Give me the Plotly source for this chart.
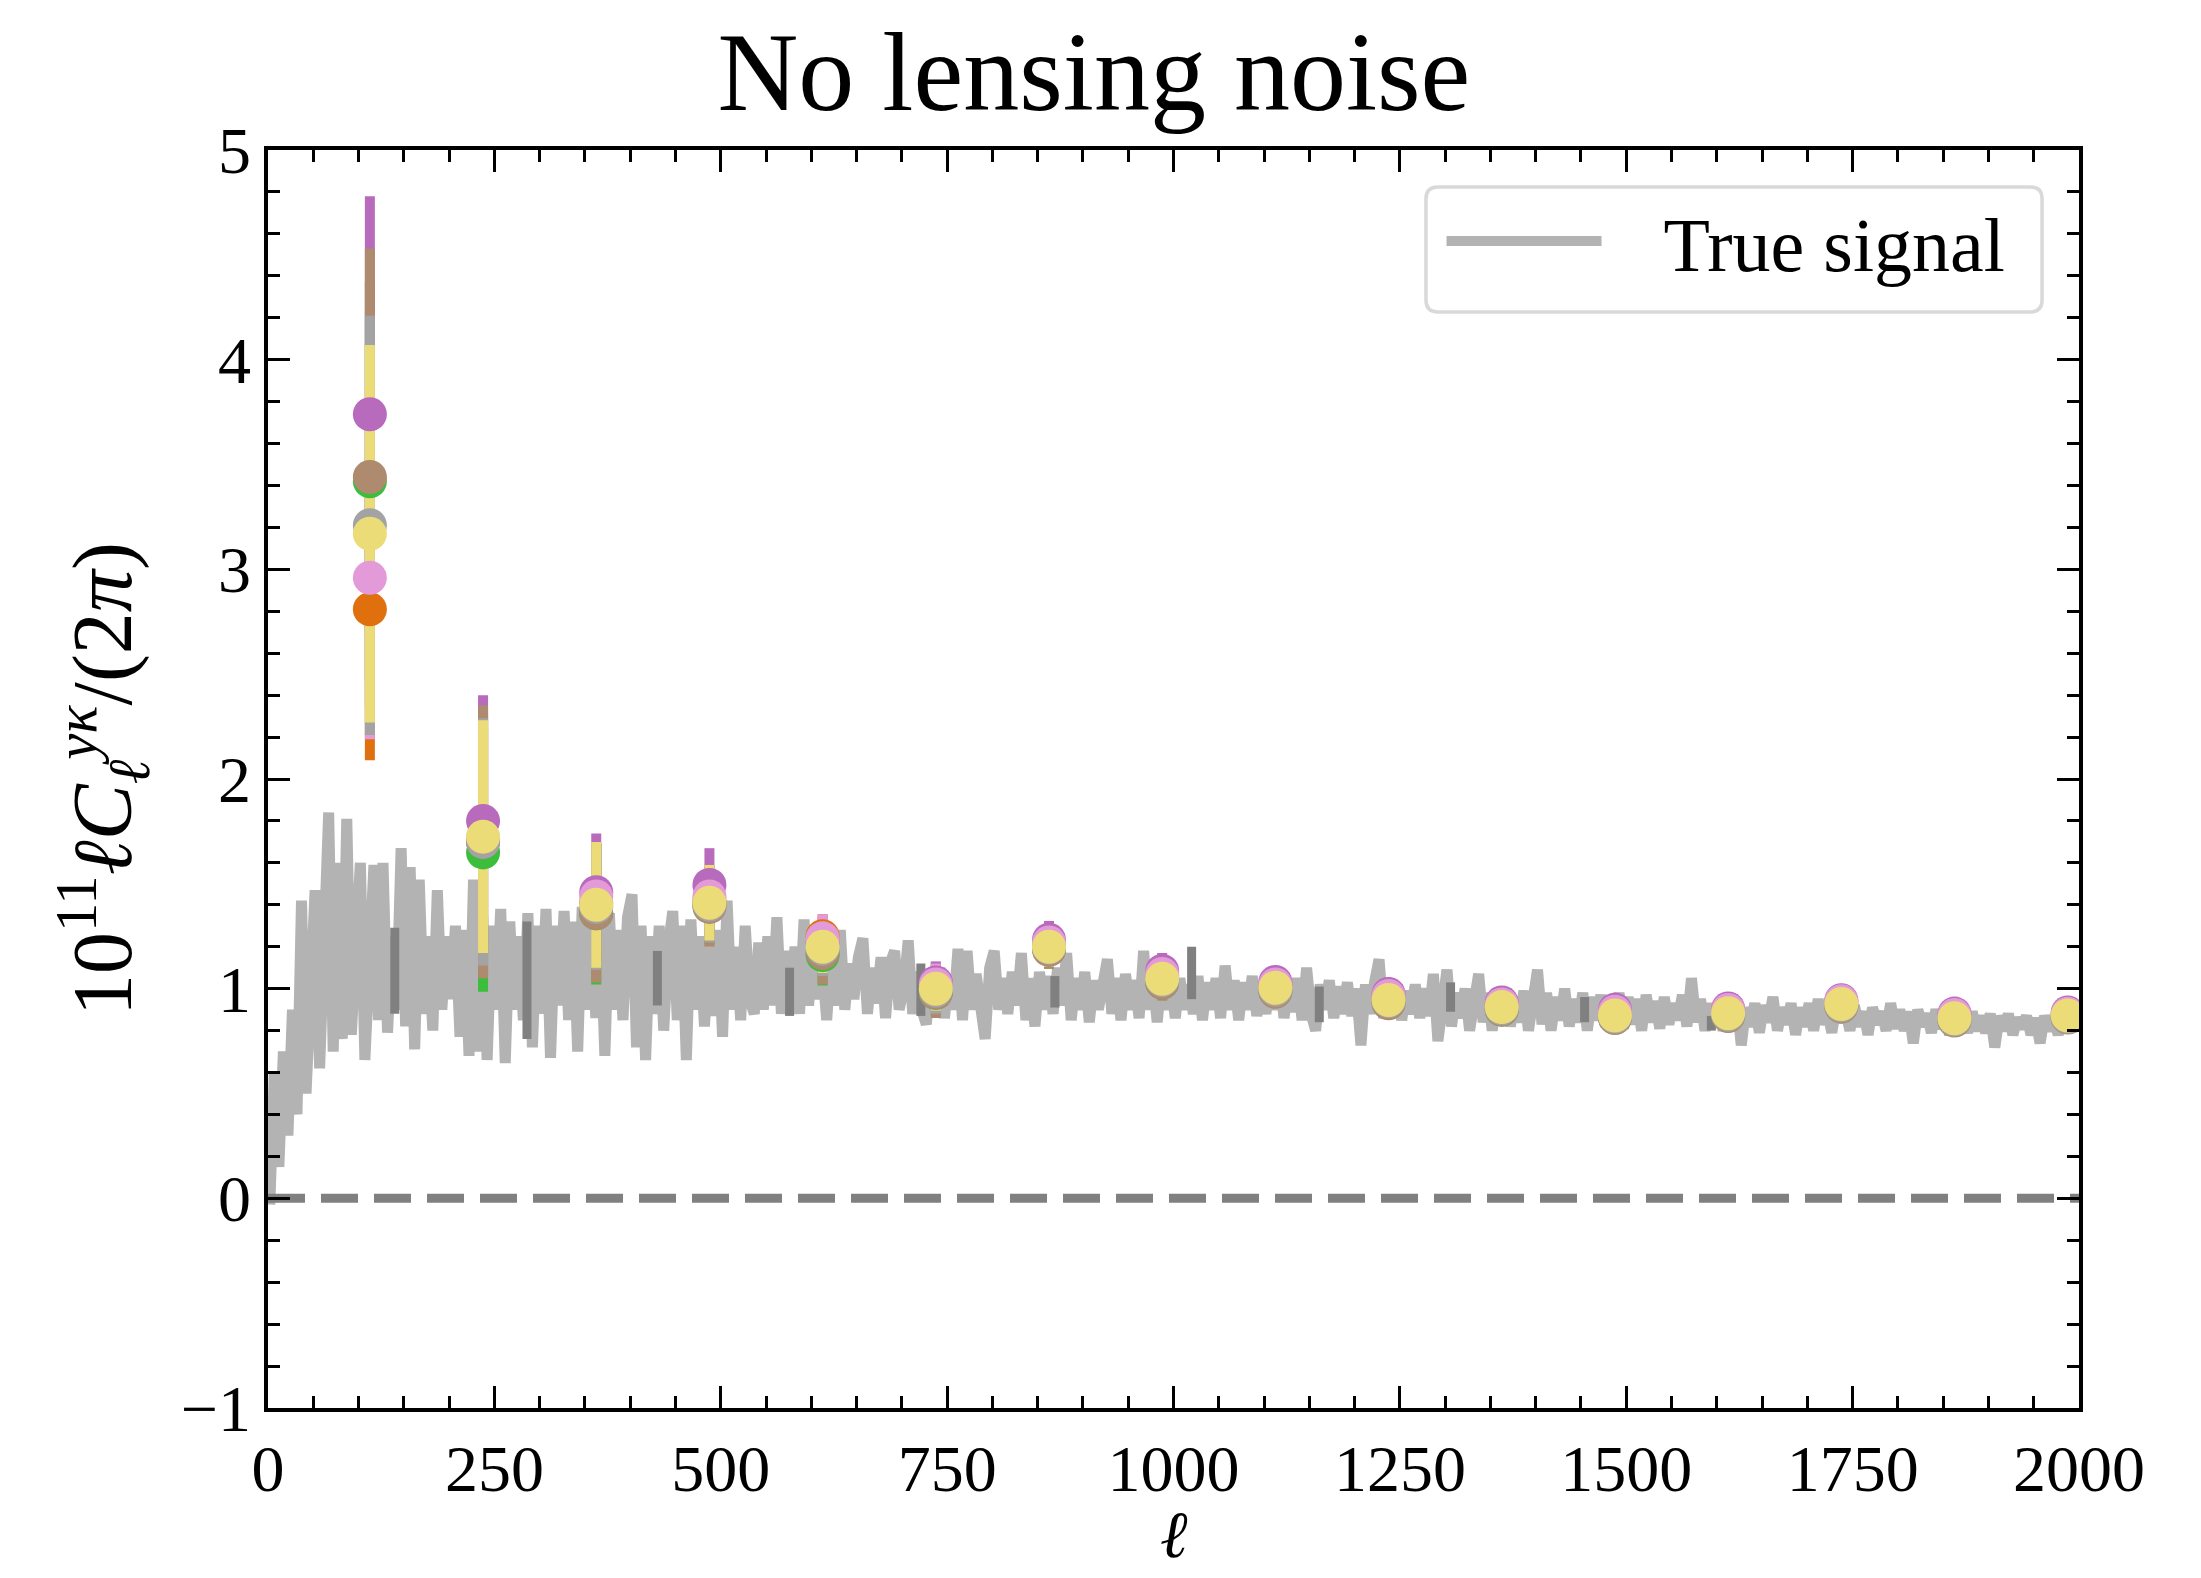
import plotly.graph_objects as go

# ---------------- data ----------------
signal_ell = list(range(2, 2002, 5))
signal_val = [
    -0.03, 0.6, 0.15, 0.7, 0.3, 0.9, 0.4, 1.42, 0.5, 1.05, 1.47, 0.62, 1.25, 1.84, 0.7, 1.6, 0.76, 1.81, 0.78, 1.35,
    1.6, 0.66, 1.2, 1.59, 0.85, 1.6, 0.79, 1.25, 0.9, 1.67, 0.82, 1.58, 0.71, 1.52, 0.88, 1.25, 0.8, 1.47, 0.9, 1.25,
    0.95, 1.3, 0.77, 1.28, 0.68, 1.52, 0.7, 1.35, 0.66, 1.3, 0.9, 1.38, 0.645, 1.32, 0.9, 1.25, 0.85, 1.36, 0.72, 1.3,
    0.88, 1.38, 0.67, 1.3, 0.92, 1.37, 0.85, 1.32, 0.7, 1.39, 0.9, 1.33, 0.86, 1.3, 0.68, 1.36, 0.9, 1.28, 0.85, 1.34,
    1.45, 0.72, 1.3, 0.66, 1.25, 0.88, 1.3, 0.8, 1.2, 1.37, 0.85, 1.3, 0.66, 1.33, 0.9, 1.25, 0.82, 1.2, 0.87, 1.28,
    0.77, 1.42, 0.9, 1.2, 0.85, 1.3, 0.95, 0.88, 1.22, 0.9, 1.25, 0.92, 1.34, 0.88, 1.18, 0.95, 1.2, 0.88, 1.33, 0.92,
    1.18, 0.95, 1.12, 0.85, 1.15, 0.92, 1.28, 0.9, 1.12, 0.95, 1.15, 1.24, 0.88, 1.1, 0.93, 1.15, 0.86, 1.12, 1.18, 0.9,
    1.0, 1.23, 0.88, 1.08, 0.9, 0.83, 1.05, 0.92, 1.1, 0.86, 1.05, 0.9, 1.19, 0.85, 1.18, 0.9, 1.07, 0.86, 0.76, 1.1,
    1.18, 0.9, 1.05, 0.88, 1.08, 0.92, 1.17, 0.85, 1.05, 0.82, 1.08, 0.9, 1.06, 0.88, 1.1, 0.92, 1.17, 0.85, 1.05, 0.9,
    1.08, 0.84, 1.04, 0.9, 1.06, 1.14, 0.88, 1.05, 0.85, 1.07, 0.9, 1.04, 0.86, 1.18, 0.9, 1.05, 0.84, 1.06, 0.9, 1.04,
    0.86, 1.05, 0.9, 1.02, 0.88, 1.06, 0.85, 1.03, 0.9, 1.05, 0.86, 1.11, 0.9, 1.04, 0.85, 1.03, 0.9, 1.06, 0.87, 1.02,
    0.88, 1.04, 0.9, 1.09, 0.86, 1.02, 0.89, 1.05, 0.85, 1.1, 0.88, 0.8, 1.02, 0.9, 1.04, 0.86, 1.01, 0.88, 1.03, 0.87,
    1.0, 0.73, 1.02, 0.88, 1.03, 1.14, 0.86, 1.0, 0.88, 1.02, 0.85, 0.99, 0.88, 1.02, 0.86, 1.0, 0.87, 1.07, 0.75, 0.98,
    1.09, 0.82, 0.98, 0.86, 1.0, 0.8, 0.97, 1.07, 0.84, 0.98, 0.8, 0.96, 0.85, 1.0, 0.82, 0.96, 0.84, 0.99, 0.8, 0.97,
    1.09, 0.83, 0.98, 0.8, 0.96, 0.85, 1.0, 0.82, 0.95, 0.84, 0.98, 0.8, 0.96, 0.85, 0.97, 0.82, 0.95, 0.84, 0.98, 0.81,
    0.96, 0.83, 0.95, 0.8, 0.97, 0.84, 0.94, 0.81, 0.96, 0.83, 0.93, 0.85, 0.97, 0.82, 1.05, 0.84, 0.95, 0.8, 0.93, 0.83,
    0.94, 0.8, 0.92, 0.84, 0.95, 0.73, 0.91, 0.82, 0.93, 0.79, 0.92, 0.84, 0.96, 0.8, 0.91, 0.83, 0.93, 0.78, 0.91, 0.82,
    0.93, 0.8, 0.95, 0.83, 0.9, 0.79, 0.92, 0.84, 0.9, 0.8, 0.92, 0.82, 0.89, 0.78, 0.91, 0.83, 0.89, 0.8, 0.93, 0.81,
    0.9, 0.8, 0.89, 0.74, 0.9, 0.82, 0.88, 0.79, 0.9, 0.81, 0.88, 0.78, 0.9, 0.82, 0.87, 0.79, 0.89, 0.8, 0.87, 0.79,
    0.88, 0.72, 0.87, 0.8, 0.88, 0.78, 0.86, 0.81, 0.87, 0.78, 0.86, 0.74, 0.87, 0.8, 0.86, 0.78, 0.88, 0.8, 0.86, 0.79,
]

# darker overlapping segments of the signal curve
dark_ell = [140, 286, 430, 576, 721, 869, 1020, 1161, 1306, 1454, 1594]
dark_lo = [0.88, 0.76, 0.92, 0.87, 0.87, 0.91, 0.95, 0.84, 0.89, 0.84, 0.80]
dark_hi = [1.29, 1.32, 1.18, 1.10, 1.12, 1.06, 1.20, 1.01, 1.03, 0.96, 0.87]

bin_ell = [112.5, 237.5, 362.5, 487.5, 612.5, 737.5, 862.5, 987.5,
           1112.5, 1237.5, 1362.5, 1487.5, 1612.5, 1737.5, 1862.5, 1987.5]

orange_val = [2.81, 1.70, 1.41, 1.42, 1.25, 1.025, 1.215, 1.06, 1.015, 0.96, 0.92, 0.885, 0.894, 0.935, 0.870, 0.878]
orange_err = [0.72, 0.55, 0.28, 0.16, 0.105, 0.10, 0.09, 0.08, 0.075, 0.07, 0.065, 0.06, 0.057, 0.055, 0.052, 0.05]
green_val = [3.42, 1.65, 1.36, 1.40, 1.16, 0.98, 1.19, 1.03, 0.99, 0.935, 0.90, 0.862, 0.872, 0.918, 0.850, 0.865]
green_err = [0.95, 0.665, 0.34, 0.19, 0.145, 0.11, 0.095, 0.085, 0.075, 0.07, 0.065, 0.06, 0.057, 0.055, 0.052, 0.05]
purple_val = [3.74, 1.80, 1.46, 1.495, 1.22, 1.03, 1.233, 1.085, 1.032, 0.975, 0.934, 0.90, 0.905, 0.945, 0.881, 0.886]
purple_err = [1.04, 0.60, 0.28, 0.175, 0.12, 0.10, 0.09, 0.085, 0.075, 0.07, 0.065, 0.06, 0.057, 0.055, 0.052, 0.05]
brown_val = [3.44, 1.70, 1.36, 1.39, 1.17, 0.98, 1.185, 1.028, 0.985, 0.93, 0.90, 0.86, 0.87, 0.915, 0.848, 0.862]
brown_err = [1.09, 0.65, 0.33, 0.19, 0.15, 0.12, 0.09, 0.085, 0.075, 0.07, 0.065, 0.06, 0.057, 0.055, 0.052, 0.05]
pink_val = [2.96, 1.72, 1.44, 1.44, 1.24, 1.02, 1.22, 1.07, 1.02, 0.965, 0.925, 0.89, 0.898, 0.94, 0.874, 0.88]
pink_err = [0.77, 0.56, 0.26, 0.15, 0.115, 0.10, 0.09, 0.08, 0.075, 0.07, 0.065, 0.06, 0.057, 0.055, 0.052, 0.05]
gray_val = [3.21, 1.70, 1.39, 1.40, 1.19, 0.99, 1.195, 1.04, 0.995, 0.94, 0.905, 0.866, 0.876, 0.92, 0.853, 0.866]
gray_err = [1.00, 0.59, 0.30, 0.18, 0.13, 0.11, 0.09, 0.085, 0.075, 0.07, 0.065, 0.06, 0.057, 0.055, 0.052, 0.05]
yellow_val = [3.17, 1.725, 1.40, 1.41, 1.20, 1.00, 1.20, 1.047, 1.004, 0.946, 0.912, 0.872, 0.883, 0.927, 0.859, 0.872]
yellow_err = [0.90, 0.555, 0.30, 0.18, 0.125, 0.105, 0.095, 0.085, 0.075, 0.07, 0.065, 0.06, 0.057, 0.055, 0.052, 0.05]

series = [
    ("orange", "#e0700e", orange_val, orange_err),
    ("green", "#3cbd3c", green_val, green_err),
    ("purple", "#b86abd", purple_val, purple_err),
    ("brown", "#ae8a6e", brown_val, brown_err),
    ("pink", "#e39ad9", pink_val, pink_err),
    ("gray", "#a3a3a3", gray_val, gray_err),
    ("olive", "#ecdc78", yellow_val, yellow_err),
]

x_ticks = [0, 250, 500, 750, 1000, 1250, 1500, 1750, 2000]
y_ticks = [-1, 0, 1, 2, 3, 4, 5]

FONT = "Liberation Serif"

fig = go.Figure()

fig.add_trace(go.Scatter(
    x=signal_ell, y=signal_val, mode="lines", name="\u00a0\u00a0\u00a0True signal",
    line=dict(color="#b3b3b3", width=11), showlegend=True, hoverinfo="skip"))

dx, dy = [], []
for e, lo, hi in zip(dark_ell, dark_lo, dark_hi):
    dx += [e, e, None]
    dy += [lo, hi, None]
fig.add_trace(go.Scatter(x=dx, y=dy, mode="lines", line=dict(color="#808080", width=9),
                         showlegend=False, hoverinfo="skip"))

fig.add_trace(go.Scatter(x=[0, 2000], y=[0, 0], mode="lines",
                         line=dict(color="#808080", width=9, dash="37px,16px"),
                         showlegend=False, hoverinfo="skip"))

# error bars first, markers on top
for name, col, vals, errs in series:
    fig.add_trace(go.Scatter(
        x=bin_ell, y=vals, mode="markers", name=name + " err",
        marker=dict(size=1, opacity=0),
        error_y=dict(type="data", array=errs, visible=True, color=col, thickness=10, width=0),
        showlegend=False))
for name, col, vals, errs in series:
    fig.add_trace(go.Scatter(
        x=bin_ell, y=vals, mode="markers", name=name,
        marker=dict(size=34, color=col, line=dict(width=0)),
        showlegend=False))

axis_common = dict(
    showline=True, linecolor="black", linewidth=3.5, mirror="ticks",
    ticks="inside", ticklen=22, tickwidth=3, tickcolor="black",
    showgrid=False, zeroline=False, automargin=False,
    tickfont=dict(family=FONT, size=66, color="black"),
)

fig.update_xaxes(**axis_common, range=[0, 2000], tickvals=x_ticks,
                 ticktext=[str(t) for t in x_ticks],
                 minor=dict(ticks="inside", ticklen=12, tickwidth=2.5, tickcolor="black", dtick=50, showgrid=False))
fig.update_yaxes(**axis_common, range=[-1, 5], tickvals=y_ticks,
                 ticktext=["−1", "0", "1", "2", "3", "4", "5"],
                 minor=dict(ticks="inside", ticklen=12, tickwidth=2.5, tickcolor="black", dtick=0.2, showgrid=False),
                 title=dict(text="10<sup>11</sup><i>ℓC</i><sub><i>ℓ</i></sub><sup><i>yκ</i></sup>/(2<i>π</i>)",
                            font=dict(family=FONT, size=84, color="black"), standoff=22))

# x-axis label placed below tick labels
fig.add_annotation(text="<i>ℓ</i>", xref="paper", yref="paper", x=0.5, y=-0.070,
                   xanchor="center", yanchor="top", showarrow=False,
                   font=dict(family=FONT, size=66, color="black"))

# rounded legend frame
x0, x1, y0, y1 = 0.6394, 0.9796, 0.8712, 0.9706
rx, ry = 0.0066, 0.0095
path = (f"M {x0+rx},{y1} L {x1-rx},{y1} Q {x1},{y1} {x1},{y1-ry} L {x1},{y0+ry} "
        f"Q {x1},{y0} {x1-rx},{y0} L {x0+rx},{y0} Q {x0},{y0} {x0},{y0+ry} "
        f"L {x0},{y1-ry} Q {x0},{y1} {x0+rx},{y1} Z")
fig.add_shape(type="path", path=path, xref="paper", yref="paper",
              line=dict(color="#d9d9d9", width=3.5), fillcolor="rgba(255,255,255,0.8)", layer="above")

fig.update_layout(
    width=2201, height=1578,
    margin=dict(l=268, r=122, t=150, b=170),
    paper_bgcolor="white", plot_bgcolor="white",
    font=dict(family=FONT, color="black"),
    title=dict(text="No lensing noise", x=0.497, xref="container", xanchor="center",
               y=0.955, yref="container", yanchor="middle",
               font=dict(family=FONT, size=112, color="black")),
    showlegend=True,
    legend=dict(x=0.648, y=0.972, xanchor="left", yanchor="top",
                bgcolor="rgba(0,0,0,0)", borderwidth=0,
                font=dict(family=FONT, size=76, color="black"),
                itemwidth=155),
)

fig.write_html("out.html")
